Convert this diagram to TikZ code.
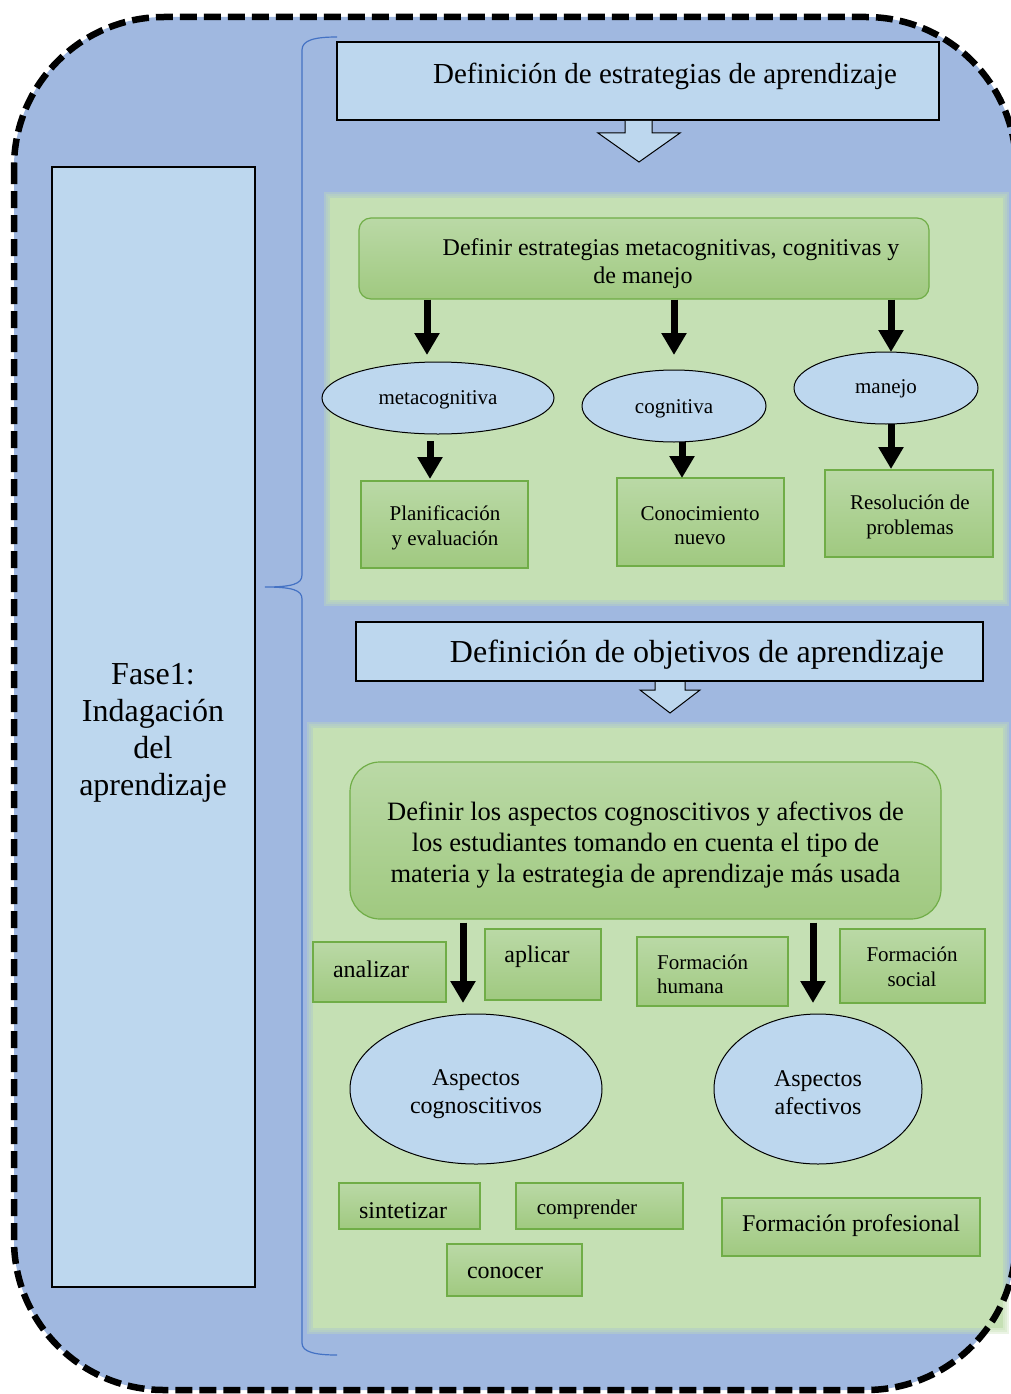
\documentclass[tikz,border=0pt]{standalone}
\usepackage{fontspec}
\setmainfont{Liberation Serif}
\usetikzlibrary{shapes.geometric,arrows.meta}
\definecolor{bgblue}{RGB}{160,184,224}
\definecolor{lblue}{RGB}{189,215,238}
\definecolor{gpanel}{RGB}{197,224,180}
\definecolor{gtop}{RGB}{186,217,166}
\definecolor{gbot}{RGB}{160,201,128}
\definecolor{gline}{RGB}{112,173,71}
\definecolor{bracec}{RGB}{68,114,196}
\newcommand{\fsz}[2]{\fontsize{#1}{#2}\selectfont}
\begin{document}
\begin{tikzpicture}[x=1pt,y=-1pt,
  gbox/.style={draw=gline, line width=1.2pt, top color=gtop, bottom color=gbot, inner sep=0pt},
  lbox/.style={draw=black, line width=1.2pt, fill=lblue, inner sep=0pt},
  ell/.style={ellipse, draw=black, line width=1pt, fill=lblue, inner sep=0pt},
  bigarrow/.style={line width=7pt, -{Triangle[width=24pt,length=22pt]}},
  txt/.style={inner sep=0pt, align=center, text=black},
  outerfill/.style={fill=bgblue, rounded corners=150pt},
  outerline/.style={draw=black, line width=6.5pt, dash pattern=on 17pt off 7pt, rounded corners=150pt},
  panel/.style={fill=gpanel}
]
\useasboundingbox (0,0) rectangle (1011,1394);

% outer frame fill
\path[outerfill] (14,17) rectangle (1016,1390);

% brace
\draw[bracec, line width=1.2pt] (337,37) .. controls (315,37) and (302,40) .. (302,50)
  -- (302,575) .. controls (302,584) and (292,587) .. (265,587)
  .. controls (292,587) and (302,590) .. (302,599)
  -- (302,1343) .. controls (302,1352) and (315,1355) .. (337,1355);

% left box
\node[lbox, minimum width=203pt, minimum height=1120pt] (fase) at (153.5,727) {};
\node[txt, font=\fsz{32}{37}] (fasetxt) at (153,732.5) {Fase1:\\Indagación\\del\\aprendizaje};

% header 1
\node[lbox, minimum width=602pt, minimum height=78pt] (hdr1) at (638,81) {};
\node[txt, font=\fsz{29}{34}] (hdr1txt) at (665,76.5) {Definición de estrategias de aprendizaje};
\fill[lblue] (625,121) -- (625,133) -- (598,133) -- (639,162) -- (680,133) -- (652,133) -- (652,121) -- cycle;
\draw[line width=1pt, line join=miter] (625,120.6) -- (625,133) -- (598,133) -- (639,162) -- (680,133) -- (652,133) -- (652,120.6);

% green panel 1
\foreach \d in {6,4,2}{
  \fill[gpanel, fill opacity=0.35] (330-\d,198-\d) rectangle (1003+\d,600+\d);}
\fill[panel] (330,198) rectangle (1003,600);

\node[gbox, rounded corners=12pt, minimum width=570pt, minimum height=81pt] (g1) at (644,258.5) {};
\node[txt, font=\fsz{24}{28}] (g1txt) at (671,263.5) {Definir estrategias metacognitivas, cognitivas y\\de manejo\hspace*{56pt}};

\node[ell, minimum width=232pt, minimum height=72pt] (meta) at (438,398) {};
\node[txt, font=\fsz{21}{25}] at (438,399.5) {metacognitiva};
\node[ell, minimum width=184pt, minimum height=72pt] (cog) at (674,406) {};
\node[txt, font=\fsz{21}{25}] at (674,409) {cognitiva};
\node[ell, minimum width=184pt, minimum height=72pt] (man) at (886,388) {};
\node[txt, font=\fsz{21}{25}] at (886,388.5) {manejo};

\node[gbox, minimum width=167pt, minimum height=87pt] (plan) at (444.5,524.5) {};
\node[txt, font=\fsz{21}{25}] at (445,528) {Planificación\\y evaluación};
\node[gbox, minimum width=167pt, minimum height=88pt] (cono) at (700.5,522) {};
\node[txt, font=\fsz{21}{24}] at (700,525.5) {Conocimiento\\nuevo};
\node[gbox, minimum width=168pt, minimum height=87pt] (reso) at (909,513.5) {};
\node[txt, font=\fsz{21}{25}] at (910,517) {Resolución de\\problemas};

\coordinate (e1) at (427,355);
\coordinate (e2) at (674,355);
\coordinate (e3) at (891,352);
\draw[bigarrow] (g1.south -| e1) -- (e1);
\draw[bigarrow] (g1.south -| e2) -- (e2);
\draw[bigarrow] (g1.south -| e3) -- (e3);
\coordinate (s4) at (430,441); \coordinate (e4) at (430,479);
\coordinate (s5) at (682,442); \coordinate (e5) at (682,478);
\coordinate (s6) at (891,424); \coordinate (e6) at (891,469);
\draw[bigarrow] (s4) -- (e4);
\draw[bigarrow] (s5) -- (e5);
\draw[bigarrow] (s6) -- (e6);

% header 2
\node[lbox, minimum width=627pt, minimum height=59pt] (hdr2) at (669.5,651.5) {};
\node[txt, font=\fsz{32}{36}] (hdr2txt) at (697,655) {Definición de objetivos de aprendizaje};
\fill[lblue] (655,682) -- (655,690) -- (640,690) -- (670,713) -- (700,690) -- (685,690) -- (685,682) -- cycle;
\draw[line width=1pt, line join=miter] (655,681.6) -- (655,690) -- (640,690) -- (670,713) -- (700,690) -- (685,690) -- (685,681.6);

% green panel 2
\foreach \d in {6,4,2}{
  \fill[gpanel, fill opacity=0.35] (313-\d,728-\d) rectangle (1003+\d,1328+\d);}
\fill[panel] (313,728) rectangle (1003,1328);

\node[gbox, rounded corners=30pt, minimum width=591pt, minimum height=157pt] (g2) at (645.5,840.5) {};
\node[txt, font=\fsz{26.5}{31}] (g2txt) at (645.5,845.5) {Definir los aspectos cognoscitivos y afectivos de\\los estudiantes tomando en cuenta el tipo de\\materia y la estrategia de aprendizaje más usada};

\node[gbox, minimum width=133pt, minimum height=60pt] (anal) at (379.5,972) {};
\node[txt, font=\fsz{24}{28}] at (371,969.5) {analizar};
\node[gbox, minimum width=116pt, minimum height=71pt] (apli) at (543,964.5) {};
\node[txt, font=\fsz{24}{28}] at (537,956.5) {aplicar};
\node[gbox, minimum width=151pt, minimum height=69pt] (fhum) at (712.5,971.5) {};
\node[txt, font=\fsz{21}{24}, align=left, anchor=west] at (657,974.5) {Formación\\humana};
\node[gbox, minimum width=145pt, minimum height=74pt] (fsoc) at (912.5,966) {};
\node[txt, font=\fsz{21}{25}] at (912,966.5) {Formación\\social};

\node[ell, minimum width=252pt, minimum height=150pt] (acog) at (476,1089) {};
\node[txt, font=\fsz{24}{28}] at (476,1094) {Aspectos\\cognoscitivos};
\node[ell, minimum width=208pt, minimum height=150pt] (afec) at (818,1089) {};
\node[txt, font=\fsz{24}{28}] at (818,1092.5) {Aspectos\\afectivos};

\coordinate (e7) at (463,1003);
\coordinate (e8) at (813,1003);
\draw[bigarrow] (g2.south -| e7) ++(0,3) -- (e7);
\draw[bigarrow] (g2.south -| e8) ++(0,3) -- (e8);

\node[gbox, minimum width=141pt, minimum height=46pt] (sint) at (409.5,1206) {};
\node[txt, font=\fsz{24}{28}] at (403,1210.5) {sintetizar};
\node[gbox, minimum width=167pt, minimum height=46pt] (comp) at (599.5,1206) {};
\node[txt, font=\fsz{21}{25}] at (587,1209) {comprender};
\node[gbox, minimum width=135pt, minimum height=52pt] (cono2) at (514.5,1270) {};
\node[txt, font=\fsz{24}{28}] at (505,1272.5) {conocer};
\node[gbox, minimum width=258pt, minimum height=58pt] (fprof) at (851,1227) {};
\node[txt, font=\fsz{24}{28}] at (851,1225.5) {Formación profesional};

% outer dashed frame line
\path[outerline] (14,17) rectangle (1016,1390);

\end{tikzpicture}
\end{document}
